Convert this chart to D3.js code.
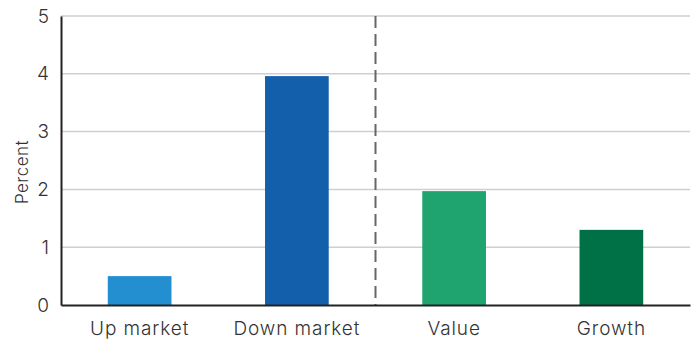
<!DOCTYPE html>
<html>
<head>
    <meta charset="utf-8">
    <title></title>
    <style type="text/css">
        html, body { margin: 0; padding: 0; background: #fff; }
        svg text { font-family: Inter, "Liberation Sans", sans-serif; fill: #333; }
    </style>
</head>
<body>
<svg id="svg" width="694" height="343"></svg>

<script src="https://cdn.jsdelivr.net/npm/d3@7/dist/d3.min.js"></script>
<script type="text/javascript">
    var categories = ['Up market', 'Down market', 'Value', 'Growth'];
    var values = [0.5, 3.96, 1.97, 1.3];
    var colors = ['#238fd0', '#135fac', '#1fa36f', '#007046'];
    var yTicks = [0, 1, 2, 3, 4, 5];

    var svg = d3.select('#svg');
    // note: "top" is taken by window.top, so use m.*
    var m = {left: 61, right: 690, top: 16, bottom: 305};

    var x = d3.scaleBand().domain(categories).range([m.left, m.right]).padding(0);
    var y = d3.scaleLinear().domain([0, 5]).range([m.bottom, m.top]);
    var barW = x.bandwidth() * 0.405;

    // gridlines
    svg.append('g')
        .selectAll('line')
        .data(yTicks.slice(1))
        .enter()
        .append('line')
        .attr('x1', m.left).attr('x2', m.right)
        .attr('y1', (d) => y(d)).attr('y2', (d) => y(d))
        .attr('stroke', '#cfcfcf')
        .attr('stroke-width', 1.5);

    // divider between market and style
    var divX = x('Value');
    svg.append('line')
        .attr('x1', divX).attr('x2', divX)
        .attr('y1', y(5)).attr('y2', y(0))
        .attr('stroke', '#666')
        .attr('stroke-width', 2)
        .attr('stroke-dasharray', '12,6');

    // bars
    svg.append('g')
        .selectAll('rect')
        .data(values)
        .enter()
        .append('rect')
        .attr('x', (d, i) => x(categories[i]) + x.bandwidth() / 2 - barW / 2)
        .attr('y', (d) => y(d))
        .attr('width', barW)
        .attr('height', (d) => y(0) - y(d))
        .attr('fill', (d, i) => colors[i]);

    // y axis
    var yAxis = svg.append('g')
        .attr('transform', 'translate(' + m.left + ',0)')
        .call(d3.axisLeft(y).tickValues(yTicks).tickFormat(d3.format('d')).tickSize(0).tickPadding(12));
    yAxis.select('.domain').attr('stroke', '#222').attr('stroke-width', 2);
    yAxis.selectAll('text').style('font-size', '19px').style('font-weight', 300).attr('fill', '#333');

    // x axis
    var xAxis = svg.append('g')
        .attr('transform', 'translate(0,' + m.bottom + ')')
        .call(d3.axisBottom(x).tickSize(0).tickPadding(17));
    xAxis.select('.domain').attr('stroke', '#222').attr('stroke-width', 2);
    xAxis.selectAll('text').style('font-size', '19px').style('font-weight', 300)
        .style('letter-spacing', '0.9px').attr('fill', '#333');

    svg.append('text')
        .attr('transform', 'translate(28,172) rotate(-90)')
        .attr('text-anchor', 'middle')
        .style('font-size', '17px')
        .style('font-weight', 300)
        .style('letter-spacing', '0.5px')
        .text('Percent');
</script>
</body>
</html>
